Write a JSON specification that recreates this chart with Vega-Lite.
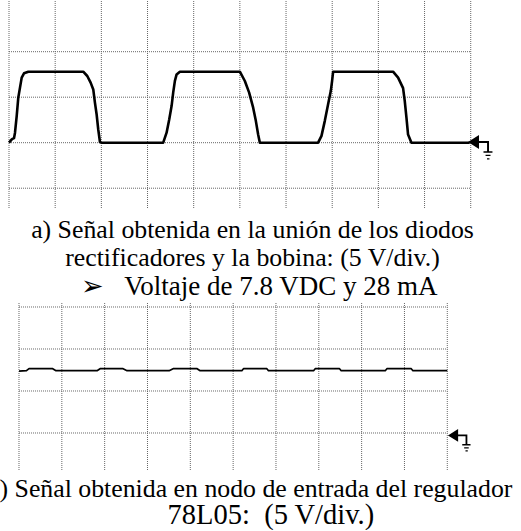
{
  "$schema": "https://vega.github.io/schema/vega-lite/v6.json",
  "padding": {"left": -14, "top": 0, "right": 0, "bottom": 0},
  "background": "white",
  "config": {"view": {"stroke": null}, "concat": {"spacing": 2}},
  "datasets": {
    "gridV": [{"g": 0}, {"g": 1}, {"g": 2}, {"g": 3}, {"g": 4}, {"g": 5}, {"g": 6}, {"g": 7}, {"g": 8}, {"g": 9}, {"g": 10}],
    "gridHa": [{"g": -1}, {"g": 0}, {"g": 1}, {"g": 2}],
    "gridHb": [{"g": 0}, {"g": 1}, {"g": 2}, {"g": 3}],
    "traceA": [
      {"t": 0, "v": 0}, {"t": 0.065, "v": 0.08}, {"t": 0.108, "v": 0.1}, {"t": 0.13, "v": 0.22},
      {"t": 0.167, "v": 0.59}, {"t": 0.201, "v": 0.99}, {"t": 0.238, "v": 1.21}, {"t": 0.275, "v": 1.43},
      {"t": 0.325, "v": 1.525}, {"t": 0.418, "v": 1.56}, {"t": 1.608, "v": 1.56}, {"t": 1.695, "v": 1.466},
      {"t": 1.768, "v": 1.32}, {"t": 1.825, "v": 1.17}, {"t": 1.861, "v": 0.88}, {"t": 1.898, "v": 0.62},
      {"t": 1.933, "v": 0.29}, {"t": 1.97, "v": 0.015}, {"t": 2.006, "v": 0}, {"t": 3.34, "v": 0},
      {"t": 3.413, "v": 0.22}, {"t": 3.47, "v": 0.51}, {"t": 3.522, "v": 0.81}, {"t": 3.556, "v": 1.1},
      {"t": 3.593, "v": 1.36}, {"t": 3.63, "v": 1.5}, {"t": 3.701, "v": 1.56}, {"t": 5.0, "v": 1.56},
      {"t": 5.108, "v": 1.356}, {"t": 5.201, "v": 1.1}, {"t": 5.288, "v": 0.77}, {"t": 5.346, "v": 0.48},
      {"t": 5.396, "v": 0.18}, {"t": 5.433, "v": 0}, {"t": 6.695, "v": 0}, {"t": 6.768, "v": 0.15},
      {"t": 6.84, "v": 0.48}, {"t": 6.91, "v": 0.84}, {"t": 6.97, "v": 1.14}, {"t": 6.998, "v": 1.36},
      {"t": 7.02, "v": 1.56}, {"t": 8.318, "v": 1.56}, {"t": 8.427, "v": 1.43}, {"t": 8.535, "v": 1.2},
      {"t": 8.571, "v": 0.92}, {"t": 8.608, "v": 0.55}, {"t": 8.643, "v": 0.18}, {"t": 8.716, "v": 0},
      {"t": 9.978, "v": 0}
    ],
    "traceB": [
      {"t": 0, "v": 1.475}, {"t": 0.175, "v": 1.483}, {"t": 0.234, "v": 1.531}, {"t": 0.787, "v": 1.531},
      {"t": 0.864, "v": 1.483}, {"t": 1.822, "v": 1.483}, {"t": 1.893, "v": 1.531}, {"t": 2.43, "v": 1.531},
      {"t": 2.523, "v": 1.483}, {"t": 3.505, "v": 1.483}, {"t": 3.598, "v": 1.531}, {"t": 4.159, "v": 1.531},
      {"t": 4.229, "v": 1.483}, {"t": 5.203, "v": 1.483}, {"t": 5.241, "v": 1.531}, {"t": 5.787, "v": 1.531},
      {"t": 5.825, "v": 1.483}, {"t": 6.877, "v": 1.483}, {"t": 6.916, "v": 1.531}, {"t": 7.484, "v": 1.531},
      {"t": 7.523, "v": 1.483}, {"t": 8.551, "v": 1.483}, {"t": 8.59, "v": 1.531}, {"t": 9.159, "v": 1.531},
      {"t": 9.198, "v": 1.483}, {"t": 10.0, "v": 1.483}
    ],
    "groundA": [{"x": 10.223, "y": -0.095}],
    "groundB": [{"x": 10.296, "y": -0.167}]
  },
  "vconcat": [
    {
      "width": 521,
      "height": 208,
      "title": {
        "text": ["a) Señal obtenida en la unión de los diodos", "rectificadores y la bobina: (5 V/div.)"],
        "subtitle": "\u200b\u00a0\u00a0➢\u00a0\u00a0\u00a0Voltaje de 7.8 VDC y 28 mA",
        "orient": "bottom", "anchor": "middle", "frame": "group", "offset": 28, "dx": -8,
        "font": "Liberation Serif", "fontSize": 25.8, "fontWeight": "normal", "color": "#000",
        "lineHeight": 28.7, "baseline": "alphabetic",
        "subtitleFont": "Liberation Serif", "subtitleFontSize": 27, "subtitleColor": "#000",
        "subtitleFontWeight": "normal", "subtitlePadding": 3
      },
      "layer": [
        {
          "data": {"name": "gridV"},
          "mark": {"type": "rule", "color": "#666", "strokeWidth": 1, "strokeDash": [1, 1]},
          "encoding": {"x": {"field": "g", "type": "quantitative", "scale": {"domain": [-0.195, 11.089], "nice": false, "zero": false}, "axis": null}}
        },
        {
          "data": {"name": "gridHa"},
          "mark": {"type": "rule", "color": "#666", "strokeWidth": 1, "strokeDash": [1, 1]},
          "encoding": {
            "y": {"field": "g", "type": "quantitative", "scale": {"domain": [-1.457, 3.114], "nice": false, "zero": false}, "axis": null},
            "x": {"datum": 0, "type": "quantitative"},
            "x2": {"datum": 10}
          }
        },
        {
          "data": {"name": "traceA"},
          "mark": {"type": "line", "color": "#000", "strokeWidth": 2.6, "strokeJoin": "round"},
          "encoding": {
            "x": {"field": "t", "type": "quantitative"},
            "y": {"field": "v", "type": "quantitative"}
          }
        },
        {
          "data": {"name": "groundA"},
          "mark": {"type": "point", "filled": true, "fill": "#000", "opacity": 1, "strokeWidth": 0, "size": 676,
            "shape": "M-1,-0.385 L-0.154,-0.923 L-0.154,0.154 Z M-0.16,-0.46 L0.615,-0.46 L0.615,-0.31 L-0.16,-0.31 Z M0.465,-0.46 L0.615,-0.46 L0.615,0.36 L0.465,0.36 Z M0.19,0.33 L0.88,0.33 L0.88,0.45 L0.19,0.45 Z M0.35,0.6 L0.73,0.6 L0.73,0.7 L0.35,0.7 Z M0.46,0.86 L0.65,0.86 L0.65,0.96 L0.46,0.96 Z"},
          "encoding": {
            "x": {"field": "x", "type": "quantitative"},
            "y": {"field": "y", "type": "quantitative"}
          }
        }
      ]
    },
    {
      "width": 521,
      "height": 168,
      "title": {
        "text": "b) Señal obtenida en nodo de entrada del regulador",
        "subtitle": "\u200b\u00a0\u00a0\u00a0\u00a0\u00a0\u00a078L05:\u00a0\u00a0(5 V/div.)",
        "orient": "bottom", "anchor": "middle", "frame": "group", "offset": 25.5, "dx": -11,
        "font": "Liberation Serif", "fontSize": 25.8, "fontWeight": "normal", "color": "#000",
        "baseline": "alphabetic",
        "subtitleFont": "Liberation Serif", "subtitleFontSize": 28.5, "subtitleColor": "#000",
        "subtitleFontWeight": "normal", "subtitlePadding": 1
      },
      "layer": [
        {
          "data": {"name": "gridV"},
          "mark": {"type": "rule", "color": "#666", "strokeWidth": 1, "strokeDash": [1, 1]},
          "encoding": {"x": {"field": "g", "type": "quantitative", "scale": {"domain": [-0.4436, 11.721], "nice": false, "zero": false}, "axis": null}}
        },
        {
          "data": {"name": "gridHb"},
          "mark": {"type": "rule", "color": "#666", "strokeWidth": 1, "strokeDash": [1, 1]},
          "encoding": {
            "y": {"field": "g", "type": "quantitative", "scale": {"domain": [-0.905, 3.095], "nice": false, "zero": false}, "axis": null},
            "x": {"datum": 0, "type": "quantitative"},
            "x2": {"datum": 10}
          }
        },
        {
          "data": {"name": "traceB"},
          "mark": {"type": "line", "color": "#000", "strokeWidth": 1.7, "strokeJoin": "round"},
          "encoding": {
            "x": {"field": "t", "type": "quantitative"},
            "y": {"field": "v", "type": "quantitative"}
          }
        },
        {
          "data": {"name": "groundB"},
          "mark": {"type": "point", "filled": true, "fill": "#000", "opacity": 1, "strokeWidth": 0, "size": 576,
            "shape": "M-1,-0.385 L-0.154,-0.923 L-0.154,0.154 Z M-0.16,-0.46 L0.615,-0.46 L0.615,-0.31 L-0.16,-0.31 Z M0.465,-0.46 L0.615,-0.46 L0.615,0.36 L0.465,0.36 Z M0.19,0.33 L0.88,0.33 L0.88,0.45 L0.19,0.45 Z M0.35,0.6 L0.73,0.6 L0.73,0.7 L0.35,0.7 Z M0.46,0.86 L0.65,0.86 L0.65,0.96 L0.46,0.96 Z"},
          "encoding": {
            "x": {"field": "x", "type": "quantitative"},
            "y": {"field": "y", "type": "quantitative"}
          }
        }
      ]
    }
  ]
}
